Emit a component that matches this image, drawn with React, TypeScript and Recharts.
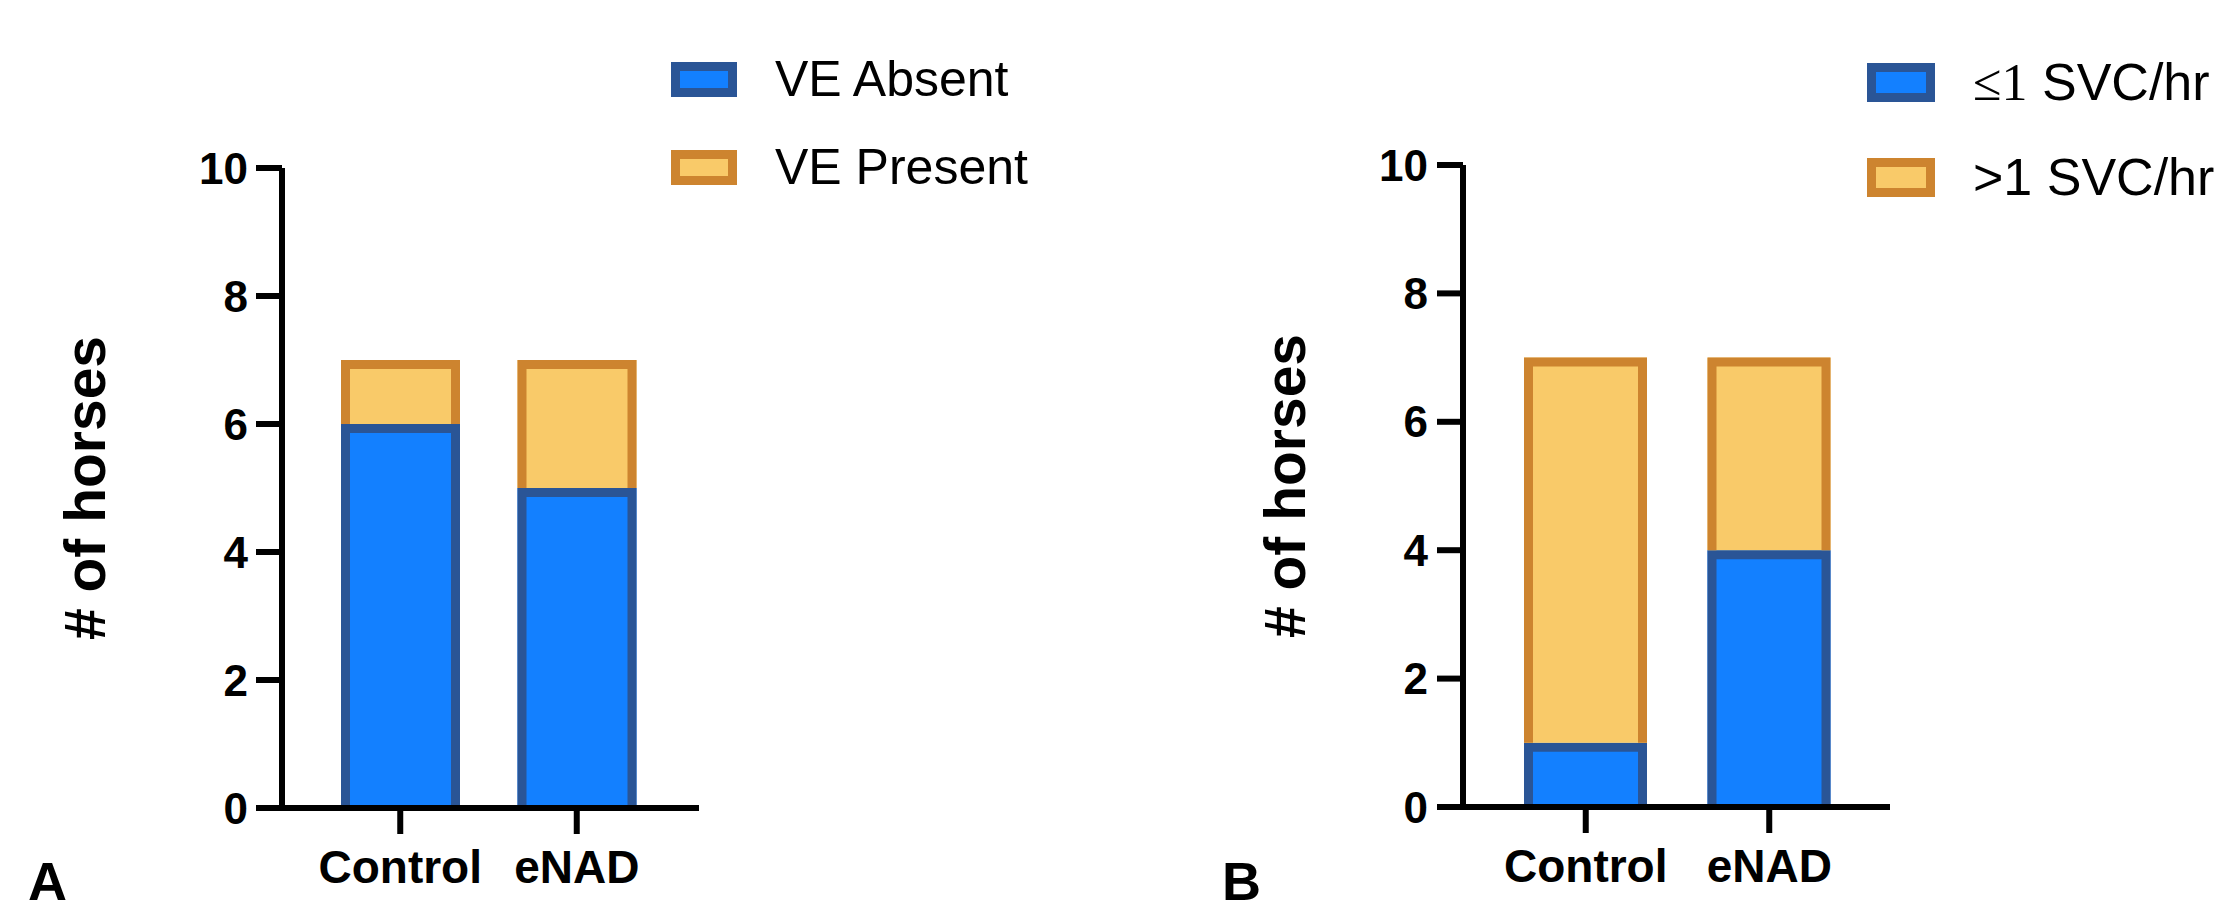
import React from "react";
import { BarChart, Bar, XAxis, YAxis, Legend } from "recharts";

// datos
const CATEGORIES = ["Control", "eNAD"];
const VE_ABSENT = [6, 5];
const VE_PRESENT = [1, 2];
const SVC_LOW = [1, 4];
const SVC_HIGH = [6, 3];
const Y_TICKS = [0, 2, 4, 6, 8, 10];

const BLUE = "#1380FF";
const BLUE_EDGE = "#2A5596";
const YELLOW = "#F9CA69";
const ORANGE = "#CD842F";
const SANS = "'Liberation Sans', Arial, Helvetica, sans-serif";
const SERIF = "'Liberation Serif', 'Times New Roman', serif";
const EDGE = 9;

// borde dibujado por dentro, sin línea inferior (como en Prism)
const makeShape = (edge: string) => (props: any) => {
  const { x, y, width, height, fill } = props;
  if (!height || height <= 0) return <g />;
  const h = EDGE / 2;
  const d = `M${x + h},${y + height} V${y + h} H${x + width - h} V${y + height}`;
  return (
    <g>
      <rect x={x} y={y} width={width} height={height} fill={fill} />
      <path d={d} fill="none" stroke={edge} strokeWidth={EDGE} strokeLinejoin="miter" />
    </g>
  );
};
const blueShape = makeShape(BLUE_EDGE);
const yellowShape = makeShape(ORANGE);

const dataA = CATEGORIES.map((c, i) => ({ name: c, absent: VE_ABSENT[i], present: VE_PRESENT[i] }));
const dataB = CATEGORIES.map((c, i) => ({ name: c, low: SVC_LOW[i], high: SVC_HIGH[i] }));

type LegendCfg = {
  boxX: number; boxY: number; boxW: number; boxH: number; step: number;
  textX: number; fontSize: number;
};

const legendContent = (labels: React.ReactNode[], cfg: LegendCfg) => () => {
  const colors = [
    { fill: BLUE, edge: BLUE_EDGE },
    { fill: YELLOW, edge: ORANGE },
  ];
  return (
    <div style={{ position: "relative", width: 1, height: 1 }}>
      {labels.map((lab, i) => {
        const top = cfg.boxY + i * cfg.step;
        const mid = top + cfg.boxH / 2;
        return (
          <React.Fragment key={i}>
            <div
              style={{
                position: "absolute", left: cfg.boxX, top,
                width: cfg.boxW, height: cfg.boxH, boxSizing: "border-box",
                background: colors[i].fill, border: `${EDGE}px solid ${colors[i].edge}`,
              }}
            />
            <div
              style={{
                position: "absolute", left: cfg.textX, top: mid - cfg.fontSize / 2 - 1,
                fontFamily: SANS, fontSize: cfg.fontSize, lineHeight: `${cfg.fontSize}px`,
                whiteSpace: "nowrap", color: "#000",
              }}
            >
              {lab}
            </div>
          </React.Fragment>
        );
      })}
    </div>
  );
};

const yLabel = (bx: number, cy: number) => () => (
  <text
    x={bx} y={cy} transform={`rotate(-90 ${bx} ${cy})`} textAnchor="middle"
    fontFamily={SANS} fontWeight="bold" fontSize={57} fill="#000"
  >
    # of horses
  </text>
);

const tickY = { fontFamily: SANS, fontSize: 44, fontWeight: "bold", fill: "#000" };
const tickX = { fontFamily: SANS, fontSize: 46, fontWeight: "bold", fill: "#000" };
const axisLine = { stroke: "#000", strokeWidth: 6 };

const panelLetter = (left: number): React.CSSProperties => ({
  position: "absolute", left, top: 861, fontFamily: SANS, fontWeight: "bold",
  fontSize: 54, lineHeight: "40px", color: "#000",
});

const App: React.FC = () => {
  return (
    <div style={{ position: "absolute", left: 0, top: 0, width: 2229, height: 915, background: "#fff", overflow: "hidden" }}>
      {/* Panel A */}
      <div style={{ position: "absolute", left: 0, top: 0 }}>
        <BarChart width={1150} height={915} data={dataA} margin={{ top: 168, right: 451, bottom: 27, left: 0 }}>
          <Legend
            layout="vertical" align="center" verticalAlign="middle"
            wrapperStyle={{ left: 0, top: 0 }}
            content={legendContent(["VE Absent", "VE Present"], {
              boxX: 671, boxY: 62, boxW: 66, boxH: 35, step: 88, textX: 775, fontSize: 50,
            })}
          />
          <Bar dataKey="absent" stackId="a" fill={BLUE} shape={blueShape} barSize={119} isAnimationActive={false} />
          <Bar dataKey="present" stackId="a" fill={YELLOW} shape={yellowShape} barSize={119} isAnimationActive={false} />
          <XAxis
            dataKey="name" interval={0} height={80} padding={{ left: 30, right: 34 }}
            axisLine={axisLine} tickLine={axisLine} tickSize={26} tickMargin={16} tick={tickX}
          />
          <YAxis
            type="number" domain={[0, 10]} ticks={Y_TICKS} interval={0} width={282}
            axisLine={axisLine} tickLine={axisLine} tickSize={26} tickMargin={8} tick={tickY}
            label={{ value: "# of horses", content: yLabel(105, 488) }}
          />
        </BarChart>
        <div style={panelLetter(28)}>A</div>
      </div>

      {/* Panel B */}
      <div style={{ position: "absolute", left: 1150, top: 0 }}>
        <BarChart width={1079} height={915} data={dataB} margin={{ top: 165, right: 339, bottom: 28, left: 0 }}>
          <Legend
            layout="vertical" align="center" verticalAlign="middle"
            wrapperStyle={{ left: 0, top: 0 }}
            content={legendContent(
              [
                <span key="l"><span style={{ fontFamily: SERIF }}>≤1</span> SVC/hr</span>,
                ">1 SVC/hr",
              ],
              { boxX: 717, boxY: 63, boxW: 68, boxH: 39, step: 95, textX: 823, fontSize: 52 }
            )}
          />
          <Bar dataKey="low" stackId="b" fill={BLUE} shape={blueShape} barSize={123} isAnimationActive={false} />
          <Bar dataKey="high" stackId="b" fill={YELLOW} shape={yellowShape} barSize={123} isAnimationActive={false} />
          <XAxis
            dataKey="name" interval={0} height={80} padding={{ left: 31, right: 29 }}
            axisLine={axisLine} tickLine={axisLine} tickSize={26} tickMargin={16} tick={tickX}
          />
          <YAxis
            type="number" domain={[0, 10]} ticks={Y_TICKS} interval={0} width={313}
            axisLine={axisLine} tickLine={axisLine} tickSize={26} tickMargin={9} tick={tickY}
            label={{ value: "# of horses", content: yLabel(155, 486) }}
          />
        </BarChart>
        <div style={panelLetter(72)}>B</div>
      </div>
    </div>
  );
};

export default App;
